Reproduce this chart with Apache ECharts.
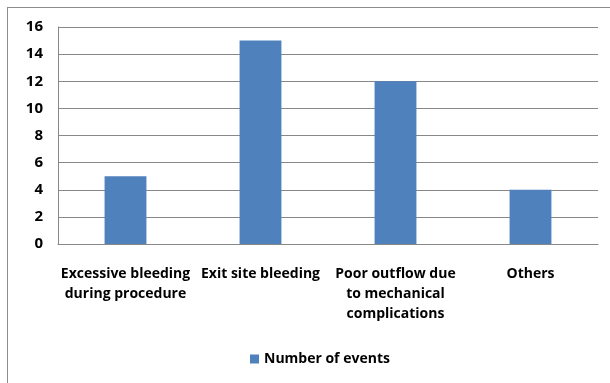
<!DOCTYPE html>
<html>
<head>
<meta charset="utf-8">
<script src="https://cdn.jsdelivr.net/npm/echarts@6/dist/echarts.min.js"></script>
<style>
  html, body { margin: 0; padding: 0; background: #fff; }
  #frame { position: absolute; left: 7px; top: 7px; width: 620px; height: 400px; border: 1px solid #8c8c8c; box-sizing: border-box; }
  #chart { position: absolute; left: 0; top: 0; width: 610px; height: 383px; }
</style>
</head>
<body>
<div id="frame"></div>
<div id="chart"></div>
<script>
// Complication categories and their event counts
const categories = [
  'Excessive bleeding\nduring procedure',
  'Exit site bleeding',
  'Poor outflow due\nto mechanical\ncomplications',
  'Others'
];
const eventCounts = [5, 15, 12, 4];
const seriesName = 'Number of events';
const yTicks = { min: 0, max: 16, step: 2 };

const chart = echarts.init(document.getElementById('chart'), null, { renderer: 'canvas' });
const fontFamily = '"Open Sans", "Liberation Sans", sans-serif';

chart.setOption({
  animation: false,
  backgroundColor: 'transparent',
  grid: { left: 58, right: 12, top: 27, bottom: 139, containLabel: false },
  legend: {
    data: [seriesName],
    bottom: 12,
    left: 245,
    icon: 'rect',
    itemWidth: 9,
    itemHeight: 9,
    itemGap: 5,
    textStyle: { fontFamily, fontSize: 14, fontWeight: 'bold', color: '#000' }
  },
  xAxis: {
    type: 'category',
    data: categories,
    axisLine: { lineStyle: { color: '#888', width: 1 } },
    axisTick: { show: false },
    axisLabel: {
      interval: 0,
      margin: 20,
      fontFamily,
      fontSize: 14,
      fontWeight: 'bold',
      color: '#000',
      lineHeight: 20
    }
  },
  yAxis: {
    type: 'value',
    min: yTicks.min,
    max: yTicks.max,
    interval: yTicks.step,
    axisLine: { show: true, lineStyle: { color: '#888', width: 1 } },
    axisTick: { show: false },
    splitLine: { lineStyle: { color: '#888', width: 1 } },
    axisLabel: { margin: 15, fontFamily, fontSize: 15, fontWeight: 'bold', color: '#000' }
  },
  series: [{
    name: seriesName,
    type: 'bar',
    data: eventCounts,
    barWidth: '31%',
    itemStyle: { color: '#4F81BD' }
  }]
});
</script>
</body>
</html>
